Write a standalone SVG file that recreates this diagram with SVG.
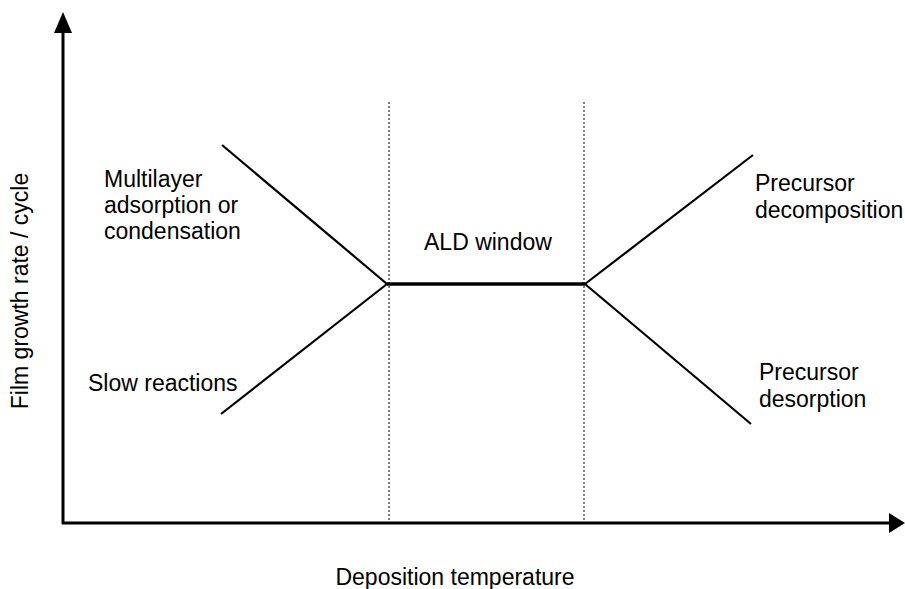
<svg xmlns="http://www.w3.org/2000/svg" width="905" height="589" viewBox="0 0 905 589">
<style>
text{font-family:"Liberation Sans",Arial,sans-serif;font-size:23px;fill:#000}
.ax{stroke:#000;stroke-width:3;fill:none}
.ln{stroke:#000;stroke-width:2.2;fill:none}
.dot{stroke:#000;stroke-width:1;stroke-dasharray:2,2;fill:none}
</style>
<rect width="905" height="589" fill="#fff"/>
<g id="axes">
<path class="ax" d="M63,524 V30 M62,523 H890"/>
<polygon points="63,12 54,33 72,33" fill="#000"/>
<polygon points="905,523 889,513 889,533" fill="#000"/>
</g>
<g id="connectors">
<line class="dot" x1="389" y1="102" x2="389" y2="522"/>
<line class="dot" x1="584" y1="102" x2="584" y2="522"/>
<line class="ln" x1="222" y1="145" x2="387" y2="284"/>
<line class="ln" x1="221" y1="414" x2="387" y2="284"/>
<line stroke="#000" stroke-width="3.5" x1="387" y1="284" x2="585" y2="284"/>
<line class="ln" x1="585" y1="284" x2="753" y2="155"/>
<line class="ln" x1="585" y1="284" x2="751" y2="424"/>
</g>
<g id="multilayer"><text x="104" y="187">Multilayer</text><text x="104" y="213">adsorption or</text><text x="104" y="239">condensation</text></g>
<g id="slow"><text x="88" y="391">Slow reactions</text></g>
<g id="ald"><text x="424" y="250">ALD window</text></g>
<g id="decomp"><text x="755" y="191">Precursor</text><text x="755" y="218">decomposition</text></g>
<g id="desorp"><text x="759" y="380">Precursor</text><text x="759" y="407">desorption</text></g>
<g id="xlabel"><text x="455" y="585" text-anchor="middle">Deposition temperature</text></g>
<g id="ylabel"><text transform="translate(28,291) rotate(-90)" text-anchor="middle">Film growth rate / cycle</text></g>
</svg>
